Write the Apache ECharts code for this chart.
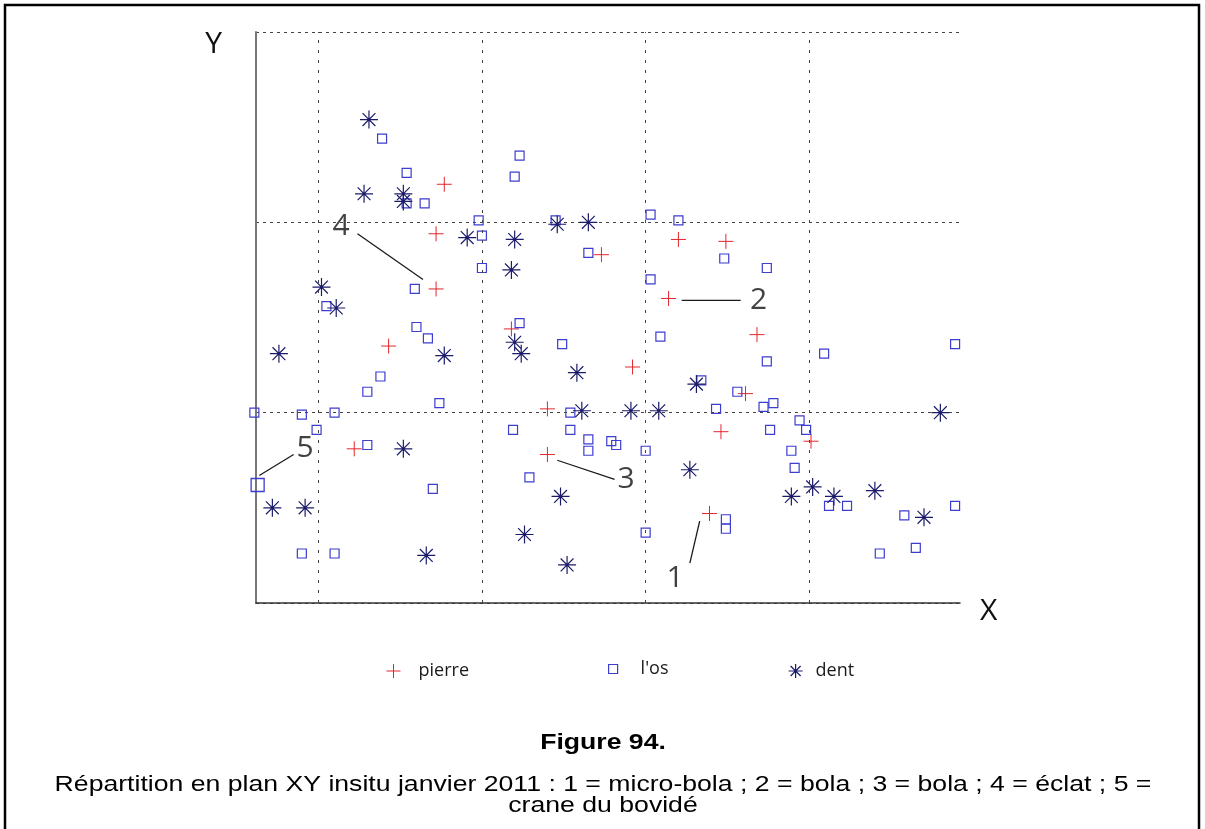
<!DOCTYPE html>
<html><head><meta charset="utf-8">
<script src="https://cdn.jsdelivr.net/npm/echarts@6/dist/echarts.min.js"></script>
<style>html,body{margin:0;padding:0;background:#fff}#c{width:1205px;height:829px}</style>
</head><body><div id="c"></div>
<script>
// ---- data (plan coordinates, one grid square = 1 unit) ----
const seriesNames = ['pierre', "l'os", 'dent'];
const pierre = [
  [1.77,2.20],[1.72,1.94],[1.72,1.65],[2.73,1.83],[3.20,1.91],[3.49,1.90],
  [3.14,1.60],[1.43,1.35],[2.18,1.44],[3.68,1.41],[2.92,1.24],[3.61,1.10],
  [2.40,1.02],[3.46,0.90],[4.01,0.85],[1.22,0.81],[2.40,0.78],[3.39,0.47]
];
const os = [
  [1.39,2.44],[2.23,2.35],[2.20,2.24],[1.54,2.26],[1.54,2.10],[1.65,2.10],
  [1.98,2.01],[2.00,1.93],[2.00,1.76],[2.45,2.01],[2.65,1.84],[3.03,2.04],
  [3.20,2.01],[3.48,1.81],[3.74,1.76],[3.03,1.70],[1.59,1.65],[1.05,1.56],
  [2.23,1.47],[1.60,1.45],[1.67,1.39],[2.49,1.36],[3.09,1.40],[4.09,1.31],
  [4.89,1.36],[3.74,1.27],[1.38,1.19],[1.30,1.11],[3.34,1.17],[3.56,1.11],
  [1.74,1.05],[3.72,1.03],[3.78,1.05],[0.61,1.00],[0.90,0.99],[1.10,1.00],
  [0.99,0.91],[1.30,0.83],[2.54,1.00],[3.43,1.02],[2.19,0.91],[2.54,0.91],
  [3.76,0.91],[3.94,0.96],[3.98,0.91],[2.65,0.86],[2.65,0.80],[2.79,0.85],
  [2.82,0.83],[3.00,0.80],[3.89,0.80],[3.91,0.71],[2.29,0.66],[1.70,0.60],
  [4.12,0.51],[4.23,0.51],[4.89,0.51],[4.58,0.46],[3.49,0.44],[3.49,0.39],
  [3.00,0.37],[4.65,0.29],[4.43,0.26],[0.90,0.26],[1.10,0.26]
];
const crane = [[0.63,0.62]];
const dent = [
  [1.31,2.54],[1.28,2.15],[1.52,2.15],[1.52,2.11],[1.91,1.92],[2.20,1.91],
  [2.18,1.75],[2.46,1.99],[2.65,2.00],[1.02,1.66],[1.11,1.55],[0.76,1.31],
  [1.77,1.30],[2.20,1.37],[2.24,1.31],[2.58,1.21],[3.31,1.15],[2.61,1.01],
  [2.91,1.01],[3.08,1.01],[4.80,1.00],[1.52,0.81],[3.27,0.70],[4.02,0.61],
  [3.89,0.56],[4.15,0.56],[4.40,0.59],[4.70,0.45],[2.48,0.56],[2.26,0.36],
  [2.52,0.20],[0.72,0.50],[0.92,0.50],[1.66,0.25]
];
const gridX = [1, 2, 3, 4];
const annotationLabels = ['1', '2', '3', '4', '5'];
const annotationLines = [
  [[3.33,0.43],[3.27,0.21]],
  [[3.22,1.59],[3.58,1.59]],
  [[2.46,0.75],[2.81,0.65]],
  [[1.24,1.94],[1.64,1.70]],
  [[0.64,0.67],[0.85,0.78]]
];
const annotationLabelPos = [[3.18,0.13],[3.69,1.59],[2.88,0.65],[1.14,1.98],[0.92,0.81]];
const figureTitle = 'Figure 94.';
const captionLines = [
  'Répartition en plan XY insitu janvier 2011 : 1 = micro-bola ; 2 = bola ; 3 = bola ; 4 = éclat ; 5 =',
  'crane du bovidé'
];

// ---- styles ----
const RED = '#e3262b', BLUE = '#3d3dd0', NAVY = '#1b1b6a';
const PLUS = 'path://M0,6L12,6M6,0L6,12';
const ASTER = 'path://M0,8L16,8M8,0L8,16M2.3,2.3L13.7,13.7M13.7,2.3L2.3,13.7';
const SQUARE = 'path://M0,0L10,0L10,10L0,10Z';
const FONT = '"Open Sans", "Noto Sans", sans-serif';

const chart = echarts.init(document.getElementById('c'), null, {renderer: 'canvas'});

const annoSeries = annotationLines.map(seg => ({
  type: 'line', data: seg, symbol: 'none', silent: true, z: 3,
  lineStyle: {color: '#1a1a1a', width: 1.3}, animation: false
}));

const legendText = {fontFamily: FONT, fontSize: 18, color: '#1a1a1a', lineHeight: 24};

const option = {
  backgroundColor: '#fff',
  animation: false,
  grid: {left: 256, right: 245, top: 32, bottom: 226},
  xAxis: {
    type: 'value', min: 0.62, max: 4.92,
    name: 'X', nameLocation: 'end', nameGap: 20,
    nameTextStyle: {fontFamily: FONT, fontSize: 30, color: '#111', align: 'left', verticalAlign: 'top', lineHeight: 16},
    axisLine: {show: true, onZero: false, lineStyle: {color: '#333', width: 1.5}},
    axisTick: {show: false}, axisLabel: {show: false}, splitLine: {show: false}
  },
  yAxis: {
    type: 'value', min: 0, max: 3, interval: 1,
    name: 'Y', nameLocation: 'end', nameGap: -12,
    nameTextStyle: {fontFamily: FONT, fontSize: 30, color: '#111', align: 'right', verticalAlign: 'middle', padding: [0,34,0,0]},
    axisLine: {show: true, onZero: false, lineStyle: {color: '#777', width: 2}},
    axisTick: {show: false}, axisLabel: {show: false},
    splitLine: {show: true, lineStyle: {color: '#444', type: [3,4], width: 1}}
  },
  legend: [
    {left: 386, top: 659, padding: 0, itemWidth: 14, itemHeight: 14, selectedMode: false,
     textStyle: Object.assign({padding: [0,0,0,13]}, legendText),
     data: [{name: seriesNames[0], icon: PLUS, itemStyle: {color: 'rgba(0,0,0,0)', borderColor: RED, borderWidth: 1}}]},
    {left: 608, top: 657, padding: 0, itemWidth: 9, itemHeight: 9, selectedMode: false,
     textStyle: Object.assign({padding: [0,0,0,18]}, legendText),
     data: [{name: seriesNames[1], icon: SQUARE, itemStyle: {color: 'rgba(0,0,0,0)', borderColor: BLUE, borderWidth: 1.2}}]},
    {left: 788, top: 659, padding: 0, itemWidth: 14, itemHeight: 14, selectedMode: false,
     textStyle: Object.assign({padding: [0,0,0,8]}, legendText),
     data: [{name: seriesNames[2], icon: ASTER, itemStyle: {color: 'rgba(0,0,0,0)', borderColor: NAVY, borderWidth: 1.2}}]}
  ],
  graphic: [
    {type: 'rect', shape: {x: 5, y: 5, width: 1194, height: 900}, style: {fill: 'none', stroke: '#000', lineWidth: 2.5}, silent: true},
    {type: 'text', x: 603, y: 743, scaleX: 1.21, style: {text: figureTitle, font: 'bold 22px "Liberation Sans", Arial, sans-serif', fill: '#000', textAlign: 'center', textVerticalAlign: 'middle'}},
    {type: 'text', x: 603, y: 785, scaleX: 1.21, style: {text: captionLines[0], font: '22px "Liberation Sans", Arial, sans-serif', fill: '#000', textAlign: 'center', textVerticalAlign: 'middle'}},
    {type: 'text', x: 603, y: 806, scaleX: 1.21, style: {text: captionLines[1], font: '22px "Liberation Sans", Arial, sans-serif', fill: '#000', textAlign: 'center', textVerticalAlign: 'middle'}}
  ],
  series: [
    {name: seriesNames[0], type: 'scatter', data: pierre, symbol: PLUS, symbolSize: 15, clip: false, z: 4,
     itemStyle: {color: 'rgba(0,0,0,0)', borderColor: RED, borderWidth: 1, opacity: 1},
     markLine: {silent: true, symbol: 'none', label: {show: false},
       lineStyle: {color: '#444', type: [3,7], width: 1},
       data: gridX.map(v => ({xAxis: v}))}},
    {name: seriesNames[1], type: 'scatter', data: os, symbol: SQUARE, symbolSize: 9, clip: false, z: 4,
     itemStyle: {color: 'rgba(0,0,0,0)', borderColor: BLUE, borderWidth: 1.2, opacity: 1}},
    {name: 'crane', type: 'scatter', data: crane, symbol: SQUARE, symbolSize: 13, clip: false, z: 4,
     itemStyle: {color: 'rgba(0,0,0,0)', borderColor: BLUE, borderWidth: 1.3, opacity: 1}},
    {name: seriesNames[2], type: 'scatter', data: dent, symbol: ASTER, symbolSize: 18, clip: false, z: 5,
     itemStyle: {color: 'rgba(0,0,0,0)', borderColor: NAVY, borderWidth: 1.2, opacity: 1}},
    ...annoSeries,
    {name: 'labels', type: 'scatter', symbolSize: 1, silent: true, z: 6,
     itemStyle: {color: 'rgba(0,0,0,0)'},
     data: annotationLabelPos.map((p, i) => ({value: p, name: annotationLabels[i]})),
     label: {show: true, position: 'inside', formatter: '{b}', fontFamily: FONT, fontSize: 30, color: '#111'}}
  ]
};
chart.setOption(option);
</script>
</body></html>
